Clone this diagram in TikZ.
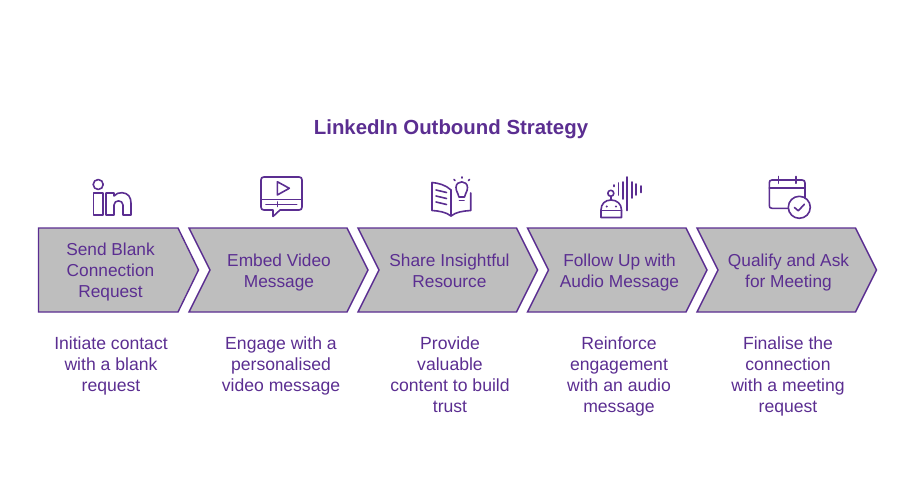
\documentclass[tikz,border=0pt]{standalone}
\usepackage{fontspec}
\setmainfont{Liberation Sans}
\usetikzlibrary{positioning}
\definecolor{stratpurple}{HTML}{5B2E91}
\definecolor{stratgrey}{HTML}{BEBEBE}
\tikzset{
  chevron/.style={draw=stratpurple,fill=stratgrey,line width=1.4pt,line join=miter},
  steptext/.style={text=stratpurple,align=center,font=\fontsize{17.3}{21}\selectfont,inner sep=0pt},
  desctext/.style={steptext,anchor=north,font=\fontsize{17.6}{21}\selectfont},
  iconline/.style={draw=stratpurple,line width=1.6pt,line cap=round,line join=round},
}
\begin{document}
\begin{tikzpicture}[x=1pt,y=-1pt]
  \useasboundingbox (0,0) rectangle (900,500);

  \node[text=stratpurple,font=\fontsize{20.4}{24}\selectfont\bfseries,inner sep=0pt] (title) at (451,129.5) {LinkedIn Outbound Strategy};

  % first chevron has a flat back
  \draw[chevron] (38.5,228) -- (178,228) -- (198.5,270) -- (178,312) -- (38.5,312) -- cycle;
  \foreach \l/\r in {189/347,358/516.5,527.5/686,697/855.5} {
    \draw[chevron] (\l,228) -- (\r,228) -- (\r+21,270) -- (\r,312) -- (\l,312) -- (\l+21,270) -- cycle;
  }

  \node[steptext] (send) at (110.5,272.5) {Send Blank\\Connection\\Request};
  \node[steptext] (embed) at (279,272.5) {Embed Video\\Message};
  \node[steptext] (share) at (449.5,270.7) {Share Insightful\\Resource};
  \node[steptext] (follow) at (619.5,272.5) {Follow Up with\\Audio Message};
  \node[steptext] (qualify) at (788.5,272.5) {Qualify and Ask\\for Meeting};

  \node[desctext] (senddesc) at (111,337) {Initiate contact\\with a blank\\request};
  \node[desctext] (embeddesc) at (281,337) {Engage with a\\personalised\\video message};
  \node[desctext] (sharedesc) at (450,337) {Provide\\valuable\\content to build\\trust};
  \node[desctext] (followdesc) at (619,337) {Reinforce\\engagement\\with an audio\\message};
  \node[desctext] (qualifydesc) at (788,337) {Finalise the\\connection\\with a meeting\\request};

  % linkedin
  \draw[iconline] (98.2,184.5) circle (5);
  \draw[iconline] (93.5,193) rectangle (102.7,215);
  \draw[iconline] (106,215) -- (106,193) -- (114,193) -- (114,196) .. controls (116,193.5) and (119,192.5) .. (122,192.7)
    .. controls (128,193) and (131,197) .. (131,203) -- (131,215) -- (123,215) -- (123,205)
    .. controls (123,199.5) and (114,199.5) .. (114,205) -- (114,215) -- cycle;

  % video
  \draw[iconline] (273,210) -- (264,210) .. controls (262,210) and (261,209) .. (261,207) -- (261,180)
    .. controls (261,178) and (262,177) .. (264,177) -- (299,177) .. controls (301,177) and (302,178) .. (302,180)
    -- (302,207) .. controls (302,209) and (301,210) .. (299,210) -- (280,210) -- (273,216.5) -- cycle;
  \draw[iconline] (261,199.3) -- (302,199.3);
  \draw[iconline] (277.3,181.7) -- (277.3,195) -- (289.3,188.3) -- cycle;
  \draw[iconline] (266,204.3) -- (296.7,204.3);
  \draw[iconline] (277.3,202) -- (277.3,206.5);

  % book
  \draw[iconline] (451,190) .. controls (446,185) and (438,183) .. (432,182.5) -- (432,210.5)
    .. controls (439,211) and (446,212) .. (451,216) .. controls (456,212) and (463,211) .. (470.7,210.5) -- (470.7,193);
  \draw[iconline] (451,190) -- (451,216);
  \foreach \y in {190,196,202} {
    \draw[iconline] (436,\y) -- (446.5,\y+2.5);
  }
  \draw[iconline] (459,197) .. controls (459,193.5) and (456,192.5) .. (456,187.5) .. controls (456,180) and (467.5,180) .. (467.5,187.5)
    .. controls (467.5,192.5) and (464.5,193.5) .. (464.5,197) -- cycle;
  \draw[iconline] (459.5,200.5) -- (464,200.5);
  \draw[iconline] (461.7,177) -- (461.7,178);
  \draw[iconline] (454,179.5) -- (455,180.5);
  \draw[iconline] (469.5,179.5) -- (468.5,180.5);

  % robot with sound
  \draw[iconline] (601,217.5) -- (601,210) .. controls (601,204) and (605,200) .. (611,200) .. controls (617,200) and (621.5,204) .. (621.5,210) -- (621.5,217.5) -- cycle;
  \draw[iconline] (601,210.5) -- (621.5,210.5);
  \fill[stratpurple] (606.7,206.5) circle (1.2) (616,206.5) circle (1.2);
  \draw[iconline] (610.8,193.3) circle (3);
  \draw[iconline] (610.8,196.3) -- (610.8,200);
  \foreach \x/\a/\b in {614/185/186.5,618.3/183/195,622.7/182/199,627/177/210.5,631.7/182/198,636/184/195,640.7/186/192.5} {
    \draw[iconline] (\x,\a) -- (\x,\b);
  }

  % calendar
  \draw[iconline] (805,198) -- (805,183) .. controls (805,181) and (804,180) .. (802,180) -- (772,180)
    .. controls (770,180) and (769.3,181) .. (769.3,183) -- (769.3,205.5) .. controls (769.3,207.5) and (770,208.3) .. (772,208.3) -- (788,208.3);
  \draw[iconline] (769.3,188.3) -- (805,188.3);
  \draw[iconline] (778.3,176.5) -- (778.3,183.3);
  \draw[iconline] (795.7,176.5) -- (795.7,183.3);
  \draw[iconline] (799.3,207.3) circle (11);
  \draw[iconline] (794.5,207.5) -- (798.3,210.8) -- (804.3,204.3);
\end{tikzpicture}
\end{document}
